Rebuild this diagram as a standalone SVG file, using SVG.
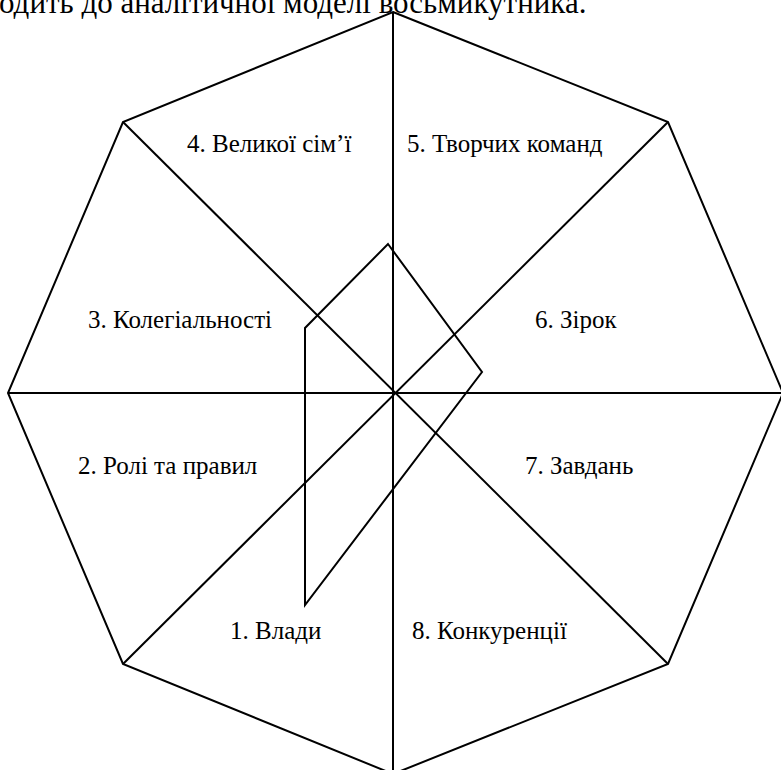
<svg xmlns="http://www.w3.org/2000/svg" width="781" height="770" viewBox="0 0 781 770">
<style>
.ln{stroke:#000;stroke-width:2;fill:none;stroke-linejoin:miter}
.t{font-family:"Liberation Serif","Times New Roman",serif;font-size:25px;fill:#000}
</style>
<rect width="781" height="770" fill="#fff"/>
<text class="t" x="-1" y="13" style="font-size:31px">одить до аналітичної моделі восьмикутника.</text>
<g id="octagon">
<polygon class="ln" points="393,12 668,122 783,393 668,664 393,774 123,664 8,393 123,122"/>
</g>
<g id="connectors">
<line class="ln" x1="393" y1="12" x2="393" y2="774"/>
<line class="ln" x1="8" y1="393" x2="783" y2="393"/>
<line class="ln" x1="123" y1="122" x2="668" y2="664"/>
<line class="ln" x1="668" y1="122" x2="123" y2="664"/>
</g>
<g id="profile">
<polygon class="ln" points="388,244 482,372 305,605 305,328"/>
</g>
<g id="n4"><text class="t" x="187" y="152">4. Великої сім’ї</text></g>
<g id="n5"><text class="t" x="407" y="152">5. Творчих команд</text></g>
<g id="n3"><text class="t" x="88" y="328">3. Колегіальності</text></g>
<g id="n6"><text class="t" x="535" y="328">6. Зірок</text></g>
<g id="n2"><text class="t" x="78" y="474">2. Ролі та правил</text></g>
<g id="n7"><text class="t" x="525" y="474">7. Завдань</text></g>
<g id="n1"><text class="t" x="230" y="639">1. Влади</text></g>
<g id="n8"><text class="t" x="412" y="639">8. Конкуренції</text></g>
</svg>
